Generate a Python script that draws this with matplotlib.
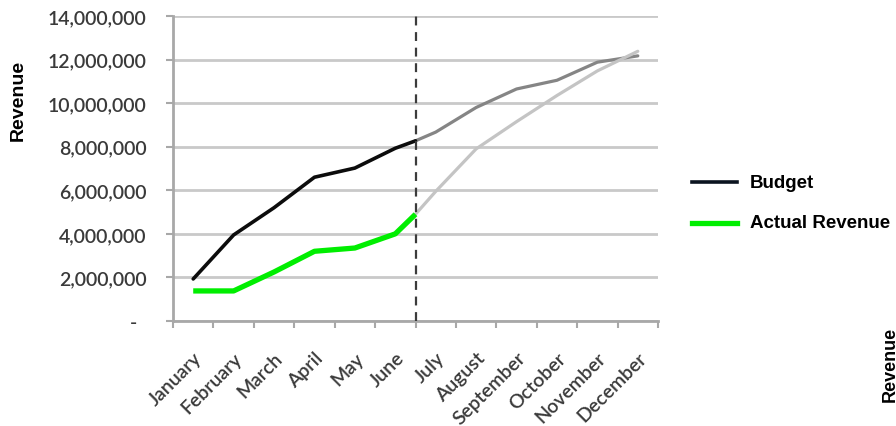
import numpy as np
import matplotlib
matplotlib.use("Agg")
import matplotlib.pyplot as plt
from matplotlib.lines import Line2D
from matplotlib.ticker import FuncFormatter

months = ["January", "February", "March", "April", "May", "June",
          "July", "August", "September", "October", "November", "December"]

# year-to-date (Jan-Jun) and projected (Jul-Dec) revenue
budget = [1_930_000, 3_950_000, 5_200_000, 6_600_000, 7_020_000, 7_930_000]
budget_forecast = [8_670_000, 9_800_000, 10_650_000, 11_050_000, 11_880_000, 12_170_000]
actual = [1_380_000, 1_380_000, 2_250_000, 3_200_000, 3_350_000, 4_000_000]
actual_forecast = [5_950_000, 7_900_000, 9_150_000, 10_350_000, 11_480_000, 12_380_000]

# values where the series cross the mid-year cut-off
budget_cutoff = 8_270_000
actual_cutoff = 4_900_000

W, H = 896, 427
fig = plt.figure(figsize=(W / 100, H / 100), dpi=100)
ax = fig.add_axes([173 / W, 105 / H, 485 / W, 305 / H])

x = np.arange(len(months), dtype=float)
n_past = len(budget)
cut = (x[n_past - 1] + x[n_past]) / 2

x_past = np.concatenate([x[:n_past], [cut]])
x_future = np.concatenate([[cut], x[n_past:]])

ax.plot(x_future, [budget_cutoff] + budget_forecast, color="#858585", lw=2.3,
        solid_capstyle="round", zorder=3)
ax.plot(x_future, [actual_cutoff] + actual_forecast, color="#c4c4c4", lw=2.3,
        solid_capstyle="round", zorder=3)
ax.plot(x_past, budget + [budget_cutoff], color="#0c0c0c", lw=2.6,
        solid_capstyle="round", zorder=4)
ax.plot(x_past, actual + [actual_cutoff], color="#00ee00", lw=3.8,
        solid_capstyle="butt", zorder=4)

ax.axvline(cut, color="#3c3c3c", lw=1.6, dashes=(4, 3), zorder=5)

ax.set_xlim(-0.5, len(months) - 0.5)
ax.set_ylim(0, 14_000_000)
ax.set_yticks(np.arange(0, 14_000_001, 2_000_000))
ax.yaxis.set_major_formatter(FuncFormatter(
    lambda v, p: "-  " if v == 0 else f"{v:,.0f}"))
ax.grid(axis="y", color="#c9c9c9", lw=2)
ax.set_axisbelow(True)

ax.set_xticks(x)
ax.set_xticks(np.arange(-0.5, len(months)), minor=True)
ax.set_xticklabels(months, rotation=45, ha="right", rotation_mode="anchor",
                   family="Lato", fontsize=14, weight="semibold", color="#3a3a3a")
ax.tick_params(axis="x", which="major", length=0, pad=20)
ax.tick_params(axis="x", which="minor", length=5, width=1.5, color="#a8a8a8")
ax.tick_params(axis="y", length=5, width=1.5, color="#a8a8a8",
               labelsize=14, labelcolor="#3a3a3a", pad=14)
for lbl in ax.get_yticklabels():
    lbl.set_family("Lato")
    lbl.set_weight("semibold")

for side in ("top", "right"):
    ax.spines[side].set_visible(False)
for side in ("left", "bottom"):
    ax.spines[side].set_color("#a8a8a8")
    ax.spines[side].set_linewidth(2)

fig.text(18 / W, 1 - 100 / H, "Revenue", rotation=90, ha="center", va="center",
         family="Liberation Sans", weight="bold", fontsize=14)
fig.text(890 / W, 1 - 364 / H, "Revenue", rotation=90, ha="center", va="center",
         family="Liberation Sans", weight="bold", fontsize=13)

# legend
for y_px, col, lw, name in [(183, "#0b1420", 2.6, "Budget"),
                            (224, "#00ee00", 3.8, "Actual Revenue")]:
    yf = 1 - y_px / H
    fig.add_artist(Line2D([692 / W, 737 / W], [yf, yf], color=col, lw=lw))
    fig.text(750 / W, yf, name, ha="left", va="center",
             family="Liberation Sans", weight="bold", fontsize=13.5)

fig.savefig("out.png", dpi=100)
